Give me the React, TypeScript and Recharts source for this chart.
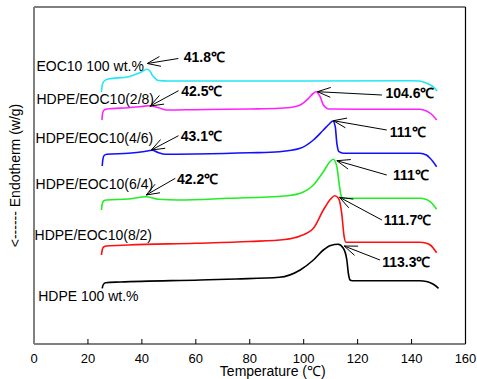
import React from 'react';
import { LineChart, Line, XAxis, YAxis, ReferenceLine, ReferenceDot, Label } from 'recharts';

// Temperature (°C) and heat-flow (arbitrary units, curves offset vertically)
const eocT = [25, 25.2, 25.6, 26.3, 27.5, 35, 38, 40, 41.8, 43, 43.8, 45, 46, 50, 100, 140, 143, 145, 147, 148.5, 149.5];
const eocY = [25.2, 25.7, 26.15, 26.35, 26.5, 26.73, 27.0, 27.23, 27.47, 27.3, 26.9, 26.55, 26.35, 26.3, 26.3, 26.33, 26.3, 26.15, 25.9, 25.6, 25.3];

const b28T = [25.2, 25.4, 25.8, 27, 35, 40, 42.5, 46.2, 49.3, 60, 80, 91, 96, 98.7, 101.8, 103.5, 104.6, 106.1, 107.3, 108.3, 109.5, 120, 143, 145.5, 147.5, 149.3];
const b28Y = [22.4, 23.0, 23.35, 23.5, 23.63, 23.75, 23.83, 23.63, 23.4, 23.43, 23.5, 23.57, 23.7, 23.9, 24.57, 25.05, 25.23, 24.73, 23.9, 23.62, 23.5, 23.48, 23.47, 23.3, 22.95, 22.4];

const b46T = [25.3, 25.5, 26, 27, 35, 41, 43.8, 46, 48.7, 60, 80, 91, 98.7, 103.6, 107.3, 109.5, 110.8, 111.7, 112.3, 113.1, 114.7, 143, 145.5, 146.9, 149.3];
const b46Y = [17.8, 18.4, 18.85, 18.97, 19.07, 19.25, 19.37, 19.15, 18.97, 19.0, 19.12, 19.23, 19.57, 20.4, 21.4, 22.0, 22.3, 21.73, 20.07, 19.23, 19.07, 19.07, 18.9, 18.57, 17.73];

const b64T = [25, 25.3, 25.8, 27, 35, 41.5, 46.2, 53.6, 72, 93, 98.7, 103.6, 107.3, 109.5, 111, 112.3, 113.3, 114.1, 115, 143, 145.5, 146.9, 149.3];
const b64Y = [13.4, 14.0, 14.3, 14.4, 14.5, 14.73, 14.47, 14.4, 14.57, 14.8, 15.07, 15.9, 17.23, 18.15, 18.47, 17.73, 15.73, 14.67, 14.57, 14.57, 14.45, 14.23, 13.47];

const b82T = [25, 25.3, 25.8, 27, 35, 59.8, 80, 93, 98.7, 103.6, 107.3, 110, 111.5, 112.9, 114.1, 115, 115.7, 143, 145.5, 146.9, 149.3];
const b82Y = [8.9, 9.4, 9.7, 9.8, 9.9, 10.07, 10.25, 10.45, 10.8, 11.57, 13.4, 14.5, 14.83, 14.57, 13.07, 10.73, 10.17, 10.17, 10.07, 9.9, 9.13];

const hdpeT = [25.3, 25.6, 26.5, 32, 61.7, 75, 91, 98.7, 103.6, 107.3, 110, 112.8, 114.7, 116, 116.6, 117.2, 118, 143, 145.5, 146.9, 148.5, 150];
const hdpeY = [5.57, 5.9, 6.13, 6.2, 6.4, 6.5, 6.67, 7.4, 8.4, 9.4, 9.85, 9.97, 9.57, 8.4, 7.0, 6.4, 6.33, 6.33, 6.25, 6.13, 5.9, 5.57];

const xTicks = [0, 20, 40, 60, 80, 100, 120, 140, 160];

const seriesNames = ['EOC10 100 wt.%', 'HDPE/EOC10(2/8)', 'HDPE/EOC10(4/6)', 'HDPE/EOC10(6/4)', 'HDPE/EOC10(8/2)', 'HDPE 100 wt.%'];
// anchor (temperature, value) of each series name
const nameT = [0.93, 0.93, 0.6, 0.6, 0.2, 1.55];
const nameY = [27.33, 23.96, 20.07, 15.55, 10.4, 4.33];

// peak annotations
const peakText = ['41.8℃', '42.5℃', '43.1℃', '42.2℃', '104.6℃', '111℃', '111℃', '111.7℃', '113.3℃'];
const peakTextT = [55.5, 54.6, 54.4, 53.0, 130.3, 131.9, 133.1, 129.7, 129.1];
const peakTextY = [28.17, 24.8, 20.33, 16.0, 24.57, 20.73, 16.4, 11.9, 7.67];
const arrowTailT = [53.5, 53.6, 53.6, 52.4, 129, 130.8, 130.8, 129, 128.3];
const arrowTailY = [28.55, 25.33, 20.83, 16.57, 24.9, 21.4, 16.9, 12.4, 8.4];
const arrowTipT = [42.0, 43.1, 43.5, 41.6, 105.1, 111.0, 112.3, 113.3, 115.0];
const arrowTipY = [28.05, 23.8, 19.4, 14.9, 25.23, 22.33, 18.33, 14.67, 9.8];

const seriesT = [eocT, b28T, b46T, b64T, b82T, hdpeT];
const seriesY = [eocY, b28Y, b46Y, b64Y, b82Y, hdpeY];
const colors = ['#22e8f4', '#ff22ff', '#1010ff', '#22ee22', '#ff1010', '#000000'];

const FONT = '"Liberation Sans", Arial, sans-serif';

const Arrow = (p: any) => {
  const { x1, y1, x2, y2 } = p;
  const ang = Math.atan2(y2 - y1, x2 - x1);
  const L = 14;
  const a = 0.36;
  const ax = x2 - L * Math.cos(ang - a);
  const ay = y2 - L * Math.sin(ang - a);
  const bx = x2 - L * Math.cos(ang + a);
  const by = y2 - L * Math.sin(ang + a);
  return (
    <g>
      <line x1={x1} y1={y1} x2={x2} y2={y2} stroke="#000" strokeWidth={1} />
      <polyline points={`${ax},${ay} ${x2},${y2} ${bx},${by}`} fill="none" stroke="#000" strokeWidth={1} />
    </g>
  );
};

export default function App() {
  return (
    <div style={{ position: 'absolute', left: 0, top: 0, width: 477, height: 379, background: '#fff' }}>
      <LineChart width={477} height={379} margin={{ top: 7, right: 11.5, left: 0, bottom: 0 }}>
        <XAxis
          dataKey="t"
          type="number"
          domain={[0, 160]}
          ticks={xTicks}
          allowDataOverflow
          height={35}
          tickSize={-5}
          tickMargin={15}
          stroke="#000"
          tick={{ fill: '#000', fontSize: 13, fontFamily: FONT }}
          axisLine={{ stroke: '#000', strokeWidth: 1.2 }}
          tickLine={{ stroke: '#000' }}
        >
          <Label value="Temperature (℃)" position="insideBottom" offset={3} dx={23} style={{ fontSize: 14, fontFamily: FONT, fill: '#000' }} />
        </XAxis>
        <YAxis
          type="number"
          domain={[0, 33.7]}
          allowDataOverflow
          width={34}
          tick={false}
          tickLine={false}
          axisLine={{ stroke: '#808080', strokeWidth: 2 }}
        >
          <Label value="<------ Endotherm (w/g)" angle={-90} position="center" dx={-2} style={{ fontSize: 14, fontFamily: FONT, fill: '#000', textAnchor: 'middle' }} />
        </YAxis>
        <ReferenceLine y={33.7} stroke="#000" strokeWidth={1.2} ifOverflow="visible" />
        <ReferenceLine x={160} stroke="#000" strokeWidth={1.2} ifOverflow="visible" />
        {seriesT.map((ts, i) => (
          <Line
            key={seriesNames[i]}
            name={seriesNames[i]}
            data={ts.map((t, j) => ({ t, y: seriesY[i][j] }))}
            dataKey="y"
            type="monotone"
            stroke={colors[i]}
            strokeWidth={1.6}
            dot={false}
            activeDot={false}
            isAnimationActive={false}
          />
        ))}
        {seriesNames.map((n, i) => (
          <ReferenceDot
            key={'n' + i}
            x={nameT[i]}
            y={nameY[i]}
            r={0}
            ifOverflow="visible"
            shape={(p: any) => (
              <text x={p.cx} y={p.cy} fontSize={14} fontFamily={FONT} fill="#000">{n}</text>
            )}
          />
        ))}
        {peakText.map((s, i) => (
          <ReferenceLine
            key={'a' + i}
            segment={[{ x: arrowTailT[i], y: arrowTailY[i] }, { x: arrowTipT[i], y: arrowTipY[i] }]}
            ifOverflow="visible"
            shape={Arrow}
          />
        ))}
        {peakText.map((s, i) => (
          <ReferenceDot
            key={'p' + i}
            x={peakTextT[i]}
            y={peakTextY[i]}
            r={0}
            ifOverflow="visible"
            shape={(p: any) => (
              <text x={p.cx} y={p.cy} fontSize={14} fontWeight="bold" fontFamily={FONT} fill="#000">{s}</text>
            )}
          />
        ))}
      </LineChart>
    </div>
  );
}
